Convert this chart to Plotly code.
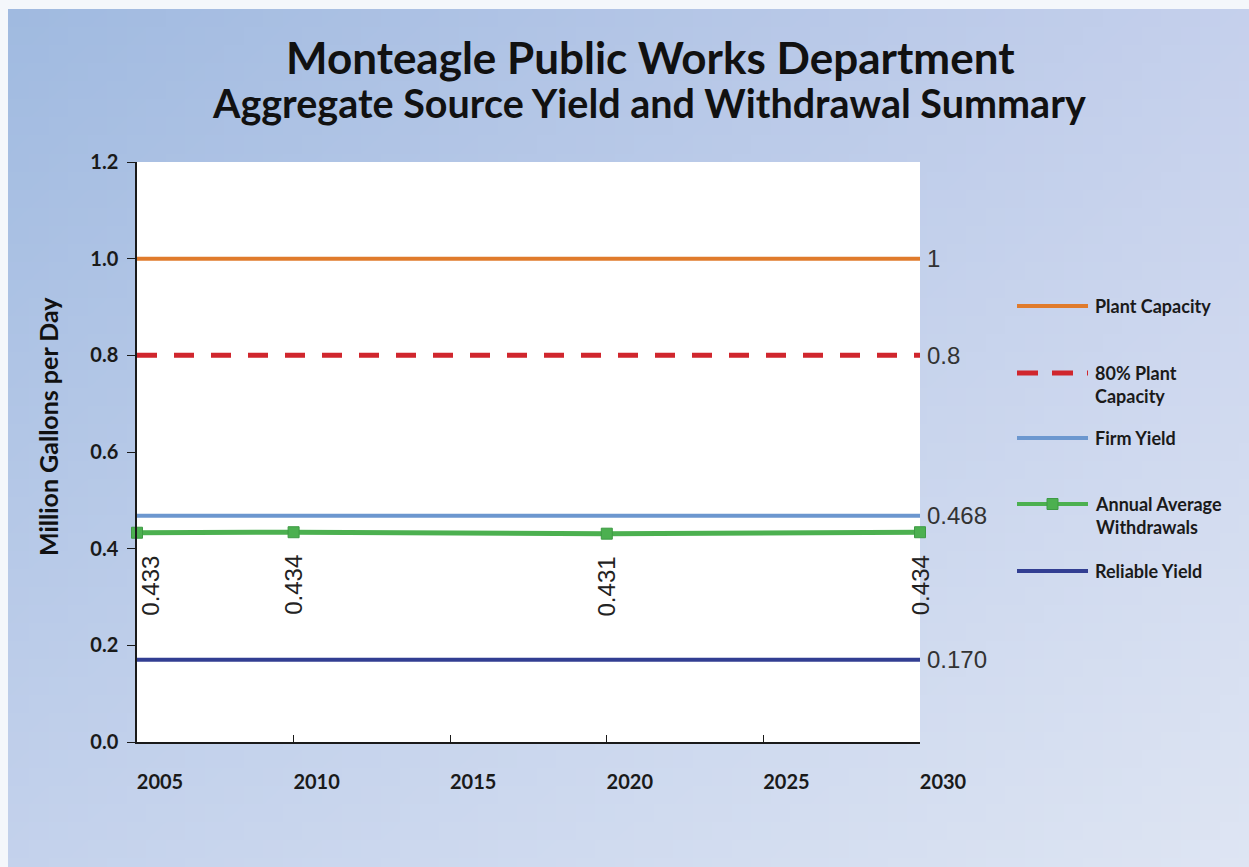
import base64, struct, zlib
import plotly.graph_objects as go

# ---------------- data ----------------
years_span = [2005, 2030]
plant_capacity = [1.0, 1.0]
plant_80 = [0.8, 0.8]
firm_yield = [0.468, 0.468]
reliable_yield = [0.170, 0.170]
withdraw_years = [2005, 2010, 2020, 2030]
withdraw_values = [0.433, 0.434, 0.431, 0.434]
withdraw_labels = ["0.433", "0.434", "0.431", "0.434"]
end_labels = ["1", "0.8", "0.468", "0.170"]
end_values = [1.0, 0.8, 0.468, 0.170]
x_ticks = [2005, 2010, 2015, 2020, 2025, 2030]
y_ticks = [0.0, 0.2, 0.4, 0.6, 0.8, 1.0, 1.2]
legend_names = ["Plant Capacity", "80% Plant<br>Capacity", "Firm Yield",
                "Annual Average<br>Withdrawals", "Reliable Yield"]

# ---------------- colours ----------------
C_ORANGE = "#e07b2c"
C_RED = "#d0262d"
C_LBLUE = "#6c97cf"
C_GREEN = "#4cb050"
C_DBLUE = "#323e92"
W, H = 1249, 867

# ---------------- gradient background PNG ----------------
def gradient_png(w, h, tl, tr, bl, br):
    rows = []
    for j in range(h):
        v = j / (h - 1)
        row = bytearray([0])
        for i in range(w):
            u = i / (w - 1)
            px = []
            for k in range(3):
                top = tl[k] * (1 - u) + tr[k] * u
                bot = bl[k] * (1 - u) + br[k] * u
                px.append(int(round(top * (1 - v) + bot * v)))
            row.extend(px)
        rows.append(bytes(row))
    raw = b"".join(rows)
    def chunk(t, d):
        c = struct.pack(">I", len(d)) + t + d
        return c + struct.pack(">I", zlib.crc32(t + d) & 0xffffffff)
    png = b"\x89PNG\r\n\x1a\n"
    png += chunk(b"IHDR", struct.pack(">IIBBBBB", w, h, 8, 2, 0, 0, 0))
    png += chunk(b"IDAT", zlib.compress(raw, 9))
    png += chunk(b"IEND", b"")
    return "data:image/png;base64," + base64.b64encode(png).decode()

bg = gradient_png(64, 48, (160, 186, 224), (197, 208, 236), (196, 210, 236), (222, 229, 243))

# ---------------- figure ----------------
L, R, T, B = 137, 329, 162, 125
pw, ph = W - L - R, H - T - B

def px2paper_x(px):
    return (px - L) / pw

def px2paper_y(py):
    return (H - B - py) / ph

fig = go.Figure()

fig.add_trace(go.Scatter(x=years_span, y=plant_capacity, mode="lines",
                         line=dict(color=C_ORANGE, width=4), name="Plant Capacity",
                         hoverinfo="skip"))
fig.add_trace(go.Scatter(x=years_span, y=plant_80, mode="lines",
                         line=dict(color=C_RED, width=5, dash="20px,17px"),
                         name="80% Plant Capacity", hoverinfo="skip"))
fig.add_trace(go.Scatter(x=years_span, y=firm_yield, mode="lines",
                         line=dict(color=C_LBLUE, width=4), name="Firm Yield",
                         hoverinfo="skip"))
fig.add_trace(go.Scatter(x=withdraw_years, y=withdraw_values, mode="lines+markers",
                         line=dict(color=C_GREEN, width=5),
                         marker=dict(symbol="square", size=11, color=C_GREEN,
                                     line=dict(color="#3e9a44", width=1)),
                         name="Annual Average Withdrawals", hoverinfo="skip",
                         cliponaxis=False))
fig.add_trace(go.Scatter(x=years_span, y=reliable_yield, mode="lines",
                         line=dict(color=C_DBLUE, width=4), name="Reliable Yield",
                         hoverinfo="skip"))

annotations = []
# rotated data labels for withdrawals
for i, (xv, yv, lab) in enumerate(zip(withdraw_years, withdraw_values, withdraw_labels)):
    annotations.append(dict(x=xv, y=yv, xref="x", yref="y", text=lab, showarrow=False,
                            textangle=-90, yshift=-53, xshift=(14 if i == 0 else 0),
                            font=dict(family="Liberation Sans, Arial", size=24, color="#222")))
# end labels on the right
for lab, yv in zip(end_labels, end_values):
    annotations.append(dict(x=2030, y=yv, xref="x", yref="y", text=lab, showarrow=False,
                            xanchor="left", xshift=5,
                            font=dict(family="Liberation Sans, Arial", size=24, color="#333")))
# titles
annotations.append(dict(x=px2paper_x(650), y=px2paper_y(57), xref="paper", yref="paper",
                        text="<b>Monteagle Public Works Department</b>",
                        showarrow=False, xanchor="center", yanchor="middle",
                        font=dict(family="Lato", size=44, color="#111")))
annotations.append(dict(x=px2paper_x(649), y=px2paper_y(103), xref="paper", yref="paper",
                        text="<b>Aggregate Source Yield and Withdrawal Summary</b>",
                        showarrow=False, xanchor="center", yanchor="middle",
                        font=dict(family="Lato", size=39.5, color="#111")))
# y-axis title
annotations.append(dict(x=px2paper_x(48), y=px2paper_y(427), xref="paper", yref="paper",
                        text="<b>Million Gallons per Day</b>", textangle=-90,
                        showarrow=False, xanchor="center", yanchor="middle",
                        font=dict(family="Lato", size=25, color="#111")))

# manual legend
shapes = []
leg_x0, leg_x1, leg_tx = 1017, 1088, 1093
leg_y = [306, 373, 438, 504, 571]
leg_styles = [dict(color=C_ORANGE, width=4), dict(color=C_RED, width=5, dash="21px,14px"),
              dict(color=C_LBLUE, width=4), dict(color=C_GREEN, width=4),
              dict(color=C_DBLUE, width=4)]
for name, yy, st in zip(legend_names, leg_y, leg_styles):
    shapes.append(dict(type="line", xref="paper", yref="paper",
                       x0=px2paper_x(leg_x0), x1=px2paper_x(leg_x1),
                       y0=px2paper_y(yy), y1=px2paper_y(yy), line=st))
    annotations.append(dict(x=px2paper_x(leg_tx), y=px2paper_y(yy - 13), xref="paper", yref="paper",
                            text=name, showarrow=False, xanchor="left", yanchor="top", align="left",
                            font=dict(family="Lato", size=18, color="#1a1a1a", weight="bold")))
# green legend marker
shapes.append(dict(type="rect", xref="paper", yref="paper",
                   x0=px2paper_x(1047), x1=px2paper_x(1058),
                   y0=px2paper_y(498.5), y1=px2paper_y(509.5),
                   fillcolor=C_GREEN, line=dict(color="#3e9a44", width=1)))
# white border strips
shapes.append(dict(type="rect", xref="paper", yref="paper", layer="below",
                   x0=px2paper_x(0), x1=px2paper_x(W), y0=px2paper_y(0), y1=px2paper_y(9),
                   fillcolor="#f4f7fb", line=dict(width=0)))
shapes.append(dict(type="rect", xref="paper", yref="paper", layer="below",
                   x0=px2paper_x(0), x1=px2paper_x(8), y0=px2paper_y(0), y1=px2paper_y(H),
                   fillcolor="#f4f7fb", line=dict(width=0)))
# white plot area
shapes.append(dict(type="rect", xref="paper", yref="paper", layer="below",
                   x0=0, x1=1, y0=0, y1=1, fillcolor="white", line=dict(width=0)))

fig.update_layout(
    width=W, height=H,
    margin=dict(l=L, r=R, t=T, b=B, pad=0),
    paper_bgcolor="#c8d5ec",
    plot_bgcolor="rgba(0,0,0,0)",
    showlegend=False,
    annotations=annotations,
    shapes=shapes,
    images=[dict(source=bg, xref="paper", yref="paper", x=px2paper_x(0), y=px2paper_y(0),
                 sizex=W / pw, sizey=H / ph, xanchor="left", yanchor="top",
                 sizing="stretch", layer="below")],
    xaxis=dict(range=[2005, 2030], tickvals=x_ticks, ticktext=[str(t) for t in x_ticks],
               showgrid=False, zeroline=False, showline=True, linecolor="#1a1a1a", linewidth=1.5,
               ticks="inside", ticklen=7, tickcolor="#1a1a1a", ticklabelshift=23,
               ticklabelstandoff=21,
               tickfont=dict(family="Lato", size=20, color="#1a1a1a", weight="bold"), fixedrange=True),
    yaxis=dict(range=[0, 1.2], tickvals=y_ticks, tickformat=".1f",
               showgrid=False, zeroline=False, showline=True, linecolor="#1a1a1a", linewidth=1.5,
               ticks="outside", ticklen=8, tickcolor="#1a1a1a", ticklabelstandoff=5,
               tickfont=dict(family="Lato", size=20, color="#1a1a1a", weight="bold"),
               fixedrange=True),
)

fig.write_html("out.html")
